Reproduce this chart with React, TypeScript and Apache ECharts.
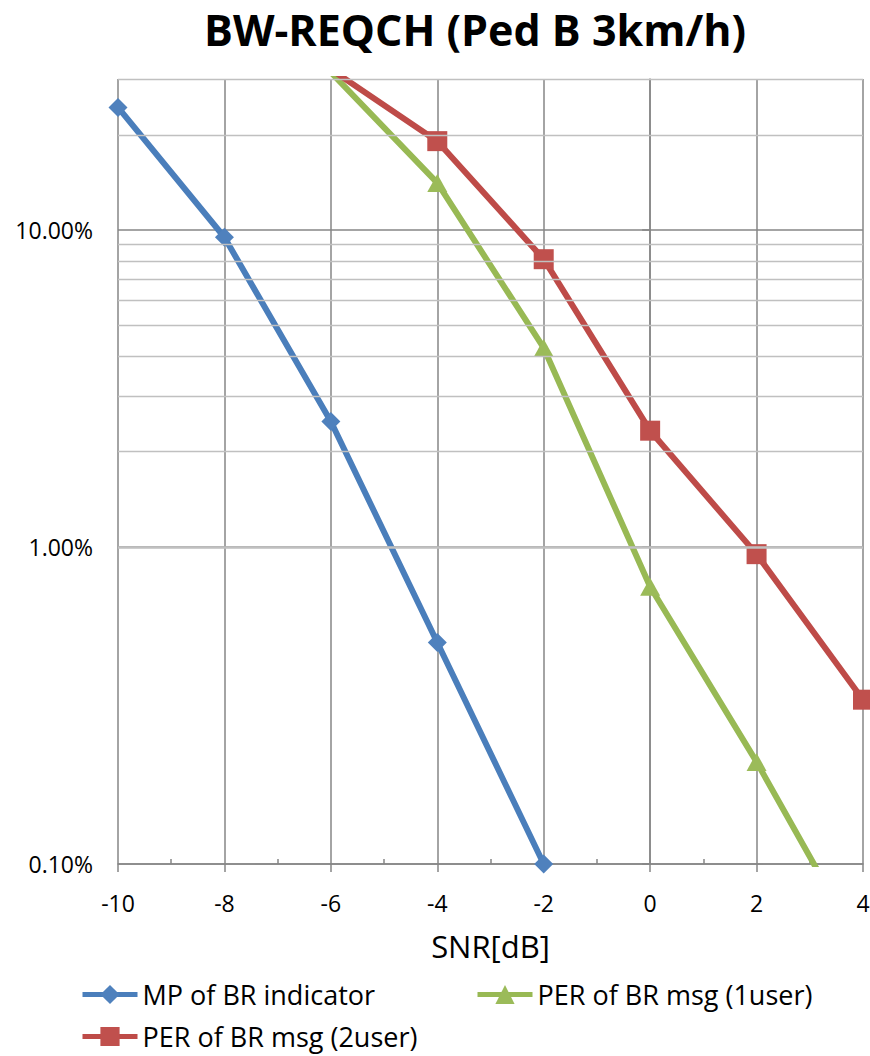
import React, { useEffect, useRef } from "react";
import * as echarts from "echarts";

// SNR [dB] categories on the x axis
const snr = [-10, -8, -6, -4, -2, 0, 2, 4];
// error rates (fractions; axis shows them as percent)
const mpBRIndicator = [0.244, 0.095, 0.0249, 0.005, 0.001, null, null, null];
const perOneUser = [null, null, 0.315, 0.141, 0.0425, 0.0075, 0.0021, 0.00053];
const perTwoUser = [null, null, 0.322, 0.191, 0.081, 0.0233, 0.0095, 0.0033];
const seriesNames = ["MP of BR indicator", "PER of BR msg (1user)", "PER of BR msg (2user)"];
const majorYTicks = [0.001, 0.01, 0.1];
const minorYLines = [
  0.002, 0.003, 0.004, 0.005, 0.006, 0.007, 0.008, 0.009,
  0.02, 0.03, 0.04, 0.05, 0.06, 0.07, 0.08, 0.09,
  0.2, 0.3,
];

const FONT = "'Open Sans', 'Noto Sans', sans-serif";
const DARK = "#868686";
const LIGHT = "#C0C0C0";
const LINE_W = 6;

function pairs(vals: (number | null)[]) {
  return snr
    .map((x, i) => [x, vals[i]])
    .filter((d) => d[1] !== null);
}

export default function App() {
  const ref = useRef<HTMLDivElement>(null);
  useEffect(() => {
    document.body.style.margin = "0";
    if (!ref.current) return;
    const chart = echarts.init(ref.current, undefined, { renderer: "svg" });
    const legendCommon = {
      itemWidth: 55,
      itemHeight: 24,
      padding: 0,
      lineStyle: { width: 5 },
      textStyle: { fontSize: 27, lineHeight: 27, color: "#000", fontFamily: FONT },
    };
    chart.setOption({
      animation: false,
      backgroundColor: "#ffffff",
      textStyle: { fontFamily: FONT },
      title: {
        text: "BW-REQCH (Ped B 3km/h)",
        left: 475,
        top: 8,
        textAlign: "center",
        padding: 0,
        textStyle: { fontSize: 43, lineHeight: 43, fontWeight: "bold", color: "#000", fontFamily: FONT },
      },
      grid: { left: 118, right: 7, top: 79, bottom: 192, containLabel: false, outerBoundsMode: "none" },
      legend: [
        { ...legendCommon, data: [seriesNames[0]], left: 80, top: 981 },
        { ...legendCommon, data: [seriesNames[1]], left: 475, top: 981 },
        { ...legendCommon, data: [seriesNames[2]], left: 80, top: 1023 },
      ],
      xAxis: [
        {
          type: "value",
          min: -10,
          max: 4,
          interval: 2,
          position: "bottom",
          name: "SNR[dB]",
          nameLocation: "middle",
          nameGap: 66,
          nameTextStyle: { fontSize: 31, color: "#000", fontFamily: FONT },
          axisLine: { show: true, lineStyle: { color: DARK, width: 1.5 } },
          axisTick: { show: true, length: 8, lineStyle: { color: DARK, width: 1.5 } },
          axisLabel: { fontSize: 23, color: "#000", margin: 27, fontFamily: FONT },
          splitLine: { show: true, lineStyle: { color: DARK, width: 1.5 } },
        },
        {
          type: "value",
          min: -10,
          max: 4,
          interval: 2,
          position: "bottom",
          axisLine: { show: false },
          axisTick: { show: false, inside: true },
          axisLabel: { show: false },
          splitLine: { show: false },
          minorTick: { show: true, splitNumber: 2, length: 5, lineStyle: { color: DARK, width: 1.5 } },
        },
      ],
      yAxis: {
        type: "log",
        logBase: 10,
        min: 0.001,
        max: 0.3,
        axisLine: { show: true, lineStyle: { color: DARK, width: 1.5 } },
        axisTick: { show: true, length: 8, customValues: majorYTicks, lineStyle: { color: DARK, width: 1.5 } },
        axisLabel: {
          customValues: majorYTicks,
          fontSize: 23,
          color: "#000",
          margin: 25,
          fontFamily: FONT,
          formatter: (v: number) => {
            const l = Math.log10(v);
            if (Math.abs(l - Math.round(l)) > 1e-6) return "";
            return (v * 100).toFixed(2) + "%";
          },
        },
        splitLine: { show: true, lineStyle: { color: DARK, width: 1.5 } },
      },
      series: [
        {
          type: "line",
          name: "minor-grid",
          data: [],
          z: 1,
          silent: true,
          markLine: {
            silent: true,
            symbol: "none",
            label: { show: false },
            lineStyle: { type: "solid", color: LIGHT, width: 1.3 },
            emphasis: { disabled: true },
            data: minorYLines.map((v) => ({ yAxis: v })),
          },
        },
        {
          type: "line",
          z: 3,
          name: seriesNames[0],
          data: pairs(mpBRIndicator),
          symbol: "diamond",
          symbolSize: 19,
          itemStyle: { color: "#4F81BD" },
          lineStyle: { color: "#4A7EBB", width: LINE_W },
        },
        {
          type: "line",
          z: 3,
          name: seriesNames[1],
          data: pairs(perOneUser),
          symbol: "triangle",
          symbolSize: [20, 18],
          itemStyle: { color: "#9BBB59" },
          lineStyle: { color: "#98B954", width: LINE_W },
        },
        {
          type: "line",
          z: 3,
          name: seriesNames[2],
          data: pairs(perTwoUser),
          symbol: "rect",
          symbolSize: 20,
          itemStyle: { color: "#C0504D" },
          lineStyle: { color: "#BE4B48", width: LINE_W },
        },
      ],
    });
    return () => chart.dispose();
  }, []);
  return <div ref={ref} style={{ width: 870, height: 1056 }} />;
}
